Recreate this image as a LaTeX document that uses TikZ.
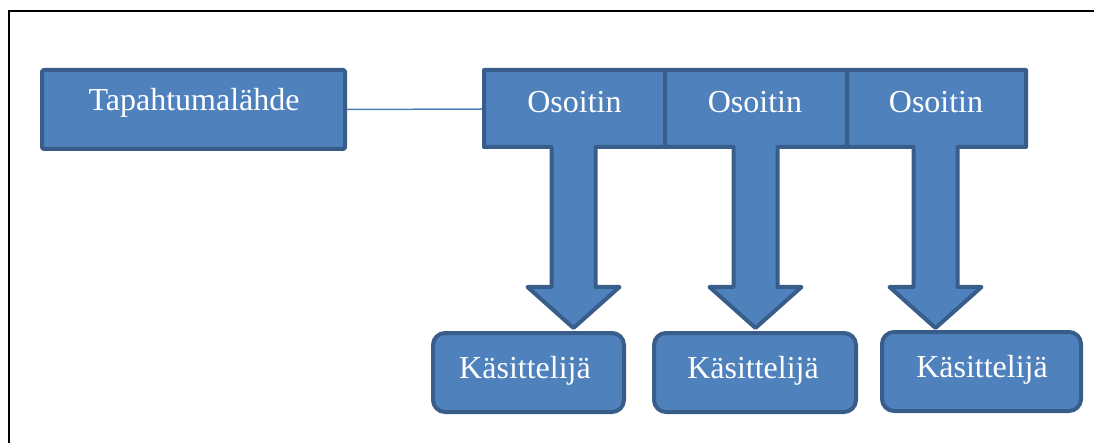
\documentclass[tikz,border=0pt]{standalone}
\usepackage{fontspec}
\setmainfont{Liberation Serif}
\definecolor{boxfill}{HTML}{4F81BD}
\definecolor{boxline}{HTML}{385D8A}
\tikzset{
  blk/.style={draw=boxline, fill=boxfill, line width=4pt, line join=round},
  panel/.style={blk, inner sep=0pt, rectangle},
  lbl/.style={text=white, font=\fontsize{32}{38}\selectfont, inner sep=0pt, anchor=base},
  link/.style={draw=boxfill, line width=1.5pt},
  frame/.style={draw=black, line width=2.2pt},
}
% T-shaped block: header box from x=#1 to x=#2, arrow centred at x=#3 pointing down
\newcommand\pointerblock[3]{%
  \draw[blk] (#1,70) -- (#2,70) -- (#2,147) -- (#3+22,147) -- (#3+22,287)
    -- (#3+46,287) -- (#3,328) -- (#3-46,287) -- (#3-22,287) -- (#3-22,147)
    -- (#1,147) -- cycle;}
\begin{document}
\begin{tikzpicture}[x=1pt,y=-1pt]
  \useasboundingbox (0,0) rectangle (1094,443);
  % page frame (top and left edges)
  \draw[frame] (8.7,443) -- (8.7,10.8) -- (1094,10.8);

  % event source
  \node[panel, rounded corners=2pt, minimum width=303pt, minimum height=79pt] (src) at (193.5,109.5) {};
  \node[lbl] (srctext) at (194,111) {Tapahtumalähde};

  % pointers with their arrows
  \pointerblock{484}{665}{573.5}
  \pointerblock{665}{847}{755.5}
  \pointerblock{847}{1026}{935.5}
  \coordinate (p1w) at (482,109);
  \node[lbl] (p1) at (574.5,113) {Osoitin};
  \node[lbl] (p2) at (755,113) {Osoitin};
  \node[lbl] (p3) at (936,113) {Osoitin};

  % connector from the source to the first pointer
  \draw[link] (src.east) -- (p1w);

  % handlers
  \node[panel, rounded corners=12pt, minimum width=191pt, minimum height=79pt] (h1) at (528.5,372.5) {};
  \node[panel, rounded corners=12pt, minimum width=202pt, minimum height=79pt] (h2) at (755,372.5) {};
  \node[panel, rounded corners=12pt, minimum width=199pt, minimum height=79pt] (h3) at (981.5,371.5) {};
  \node[lbl] (h1text) at (525,378) {Käsittelijä};
  \node[lbl] (h2text) at (753,378) {Käsittelijä};
  \node[lbl] (h3text) at (982,377) {Käsittelijä};
\end{tikzpicture}
\end{document}
